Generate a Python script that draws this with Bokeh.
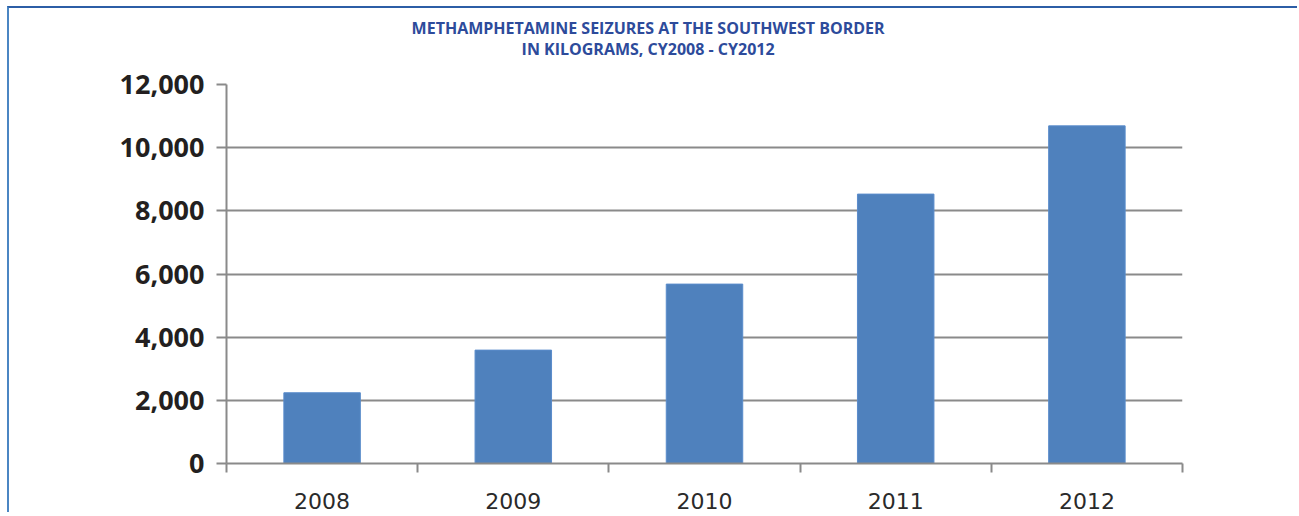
from bokeh.plotting import figure
from bokeh.models import (Range1d, FixedTicker, NumeralTickFormatter, LinearAxis)
from bokeh.embed import file_html
from bokeh.resources import INLINE
import numpy as np

# ---- data ----
years = ["2008", "2009", "2010", "2011", "2012"]
seizures_kg = [2240, 3590, 5680, 8530, 10690]
y_ticks = [0, 2000, 4000, 6000, 8000, 10000, 12000]
title_line1 = "METHAMPHETAMINE SEIZURES AT THE SOUTHWEST BORDER"
title_line2 = "IN KILOGRAMS, CY2008 - CY2012"

n = len(years)
centers = list(np.arange(n) + 0.5)
bounds = list(np.arange(n + 1).astype(float))
title_x = 2.205  # horizontal anchor of the title (centred on the page)

p = figure(width=1290, height=506, output_backend="svg", toolbar_location=None,
           x_range=Range1d(0, n), y_range=Range1d(0, 12000),
           min_border_left=217, min_border_right=117, min_border_top=76,
           min_border_bottom=51)
p.styles = {"margin-left": "7px", "margin-top": "6px",
            "border-left": "2px solid #4b86c3", "border-top": "2px solid #2c5ea6"}
p.outline_line_color = None
p.background_fill_color = "white"
p.border_fill_color = "white"

p.vbar(x=centers, top=seizures_kg, width=0.4, fill_color="#4f81bd",
       line_color="#5a8ccb", line_width=1)

grey = "#8a8a8a"
# y axis
p.yaxis.ticker = FixedTicker(ticks=y_ticks)
p.yaxis.formatter = NumeralTickFormatter(format="0,0")
p.yaxis.axis_line_color = grey
p.yaxis.axis_line_width = 2
p.yaxis.major_tick_line_color = grey
p.yaxis.major_tick_line_width = 2
p.yaxis.major_tick_out = 10
p.yaxis.major_tick_in = 0
p.yaxis.minor_tick_line_color = None
p.yaxis.major_label_text_font = "Open Sans"
p.yaxis.major_label_text_font_style = "bold"
p.yaxis.major_label_text_font_size = "27px"
p.yaxis.major_label_text_color = "#231f20"
p.yaxis.major_label_standoff = 12

# x axis: labels at centers, ticks at boundaries
p.xaxis.ticker = FixedTicker(ticks=centers, minor_ticks=bounds)
p.xaxis.major_label_overrides = {c: y for c, y in zip(centers, years)}
p.xaxis.axis_line_color = grey
p.xaxis.axis_line_width = 2
p.xaxis.major_tick_line_color = None
p.xaxis.major_tick_out = 0
p.xaxis.major_tick_in = 0
p.xaxis.minor_tick_line_color = grey
p.xaxis.minor_tick_line_width = 2
p.xaxis.minor_tick_out = 9
p.xaxis.minor_tick_in = 0
p.xaxis.major_label_text_font = "DejaVu Sans"
p.xaxis.major_label_text_font_size = "22px"
p.xaxis.major_label_text_color = "#2a2a2a"
p.xaxis.major_label_standoff = 20

p.xgrid.grid_line_color = None
p.ygrid.grid_line_color = grey
p.ygrid.grid_line_width = 2

# two-line title drawn as single-tick axes above the frame
title_color = "#2d4b9b"
for text, standoff in [(title_line2, 25), (title_line1, -4)]:
    ax = LinearAxis(ticker=FixedTicker(ticks=[title_x]),
                    major_label_overrides={title_x: text})
    ax.axis_line_color = None
    ax.major_tick_line_color = None
    ax.minor_tick_line_color = None
    ax.major_tick_out = 0
    ax.major_tick_in = 0
    ax.minor_tick_out = 0
    ax.minor_tick_in = 0
    ax.major_label_standoff = standoff
    ax.major_label_text_font = "Open Sans"
    ax.major_label_text_font_style = "bold"
    ax.major_label_text_font_size = "16px"
    ax.major_label_text_color = title_color
    p.add_layout(ax, "above")

open("out.html", "w").write(file_html(p, INLINE))
